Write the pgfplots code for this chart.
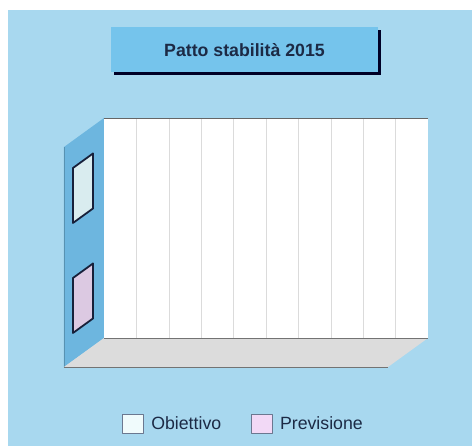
\documentclass[border=0pt]{standalone}
\usepackage{fontspec}
\setmainfont{Liberation Sans}
\usepackage{pgfplots}
\pgfplotsset{compat=1.18}
\definecolor{bgblue}{HTML}{A8D8EF}
\definecolor{wallblue}{HTML}{6DB6DF}
\definecolor{floorgray}{HTML}{DCDCDC}
\definecolor{titleblue}{HTML}{75C4EC}
\definecolor{barA}{HTML}{D9ECEF}
\definecolor{barB}{HTML}{DCC9E2}
\definecolor{barline}{HTML}{17203A}
\definecolor{legA}{HTML}{F0FBFC}
\definecolor{legB}{HTML}{F2D9F6}
\definecolor{legline}{HTML}{6B7890}
\definecolor{txt}{HTML}{1C2A45}
\begin{document}
\begin{tikzpicture}
% page background
\path[use as bounding box, fill=white] (-104bp,338bp) rectangle (368bp,-108bp);
\fill[bgblue] (-96bp,328bp) rectangle (368bp,-108bp);
% title box
\fill[black!85!blue] (10bp,263bp) rectangle (277bp,308bp);
\fill[titleblue] (7bp,266bp) rectangle (274bp,311bp);
\node[font=\bfseries\fontsize{17.8}{20}\selectfont, text=txt] at (140.5bp,288bp) {Patto stabilità 2015};
% left wall and floor
\fill[wallblue] (0bp,220bp) -- (0bp,0bp) -- (-40bp,-29bp) -- (-40bp,191bp) -- cycle;
\draw[wallblue!80!black, line width=0.5bp] (-40bp,-29bp) -- (-40bp,191bp);
\fill[floorgray] (0bp,0bp) -- (324bp,0bp) -- (284bp,-29bp) -- (-40bp,-29bp) -- cycle;
\draw[gray!90!black, line width=0.8bp] (-40bp,-29bp) -- (284bp,-29bp);
\begin{axis}[
  at={(0bp,0bp)}, anchor=south west,
  width=324bp, height=220bp, scale only axis,
  xmin=0, xmax=10, ymin=-0.5, ymax=1.5,
  xtick={1,...,9}, ytick=\empty,
  xticklabels={}, major tick length=0pt,
  xmajorgrids, grid style={draw=black!14, line width=0.6bp},
  axis background/.style={fill=white},
  axis line style={draw=none},
  clip=false,
  legend columns=2,
  legend style={at={(0.431,-0.391)}, anchor=center, draw=none, fill=none,
    font=\fontsize{17.8}{20}\selectfont, text=txt,
    /tikz/every odd column/.append style={column sep=5bp},
    /tikz/every even column/.append style={column sep=28bp}},
]
% back wall edges
\draw[gray!80!black, line width=0.8bp] (axis cs:0,1.5) -- (axis cs:10,1.5);
\draw[gray!90!black, line width=0.8bp] (axis cs:0,-0.5) -- (axis cs:10,-0.5);
% bars (value 0): end faces on the left wall
\addplot[fill=barA, draw=barline, line width=1.8bp, line join=round,
  legend image code/.code={\draw[fill=legA, draw=legline, line width=0.8bp] (0bp,-9.5bp) rectangle (21bp,9.5bp);}]
  coordinates {(-0.3395,1.1775) (-0.3395,0.6775) (-0.9568,0.5457) (-0.9568,1.0457) (-0.3395,1.1775)} -- cycle;
\addlegendentry{Obiettivo}
\addplot[fill=barB, draw=barline, line width=1.8bp, line join=round,
  legend image code/.code={\draw[fill=legB, draw=legline, line width=0.8bp] (0bp,-9.5bp) rectangle (21bp,9.5bp);}]
  coordinates {(-0.3395,0.1775) (-0.3395,-0.3225) (-0.9568,-0.4543) (-0.9568,0.0457) (-0.3395,0.1775)} -- cycle;
\addlegendentry{Previsione}
\end{axis}
\end{tikzpicture}
\end{document}
